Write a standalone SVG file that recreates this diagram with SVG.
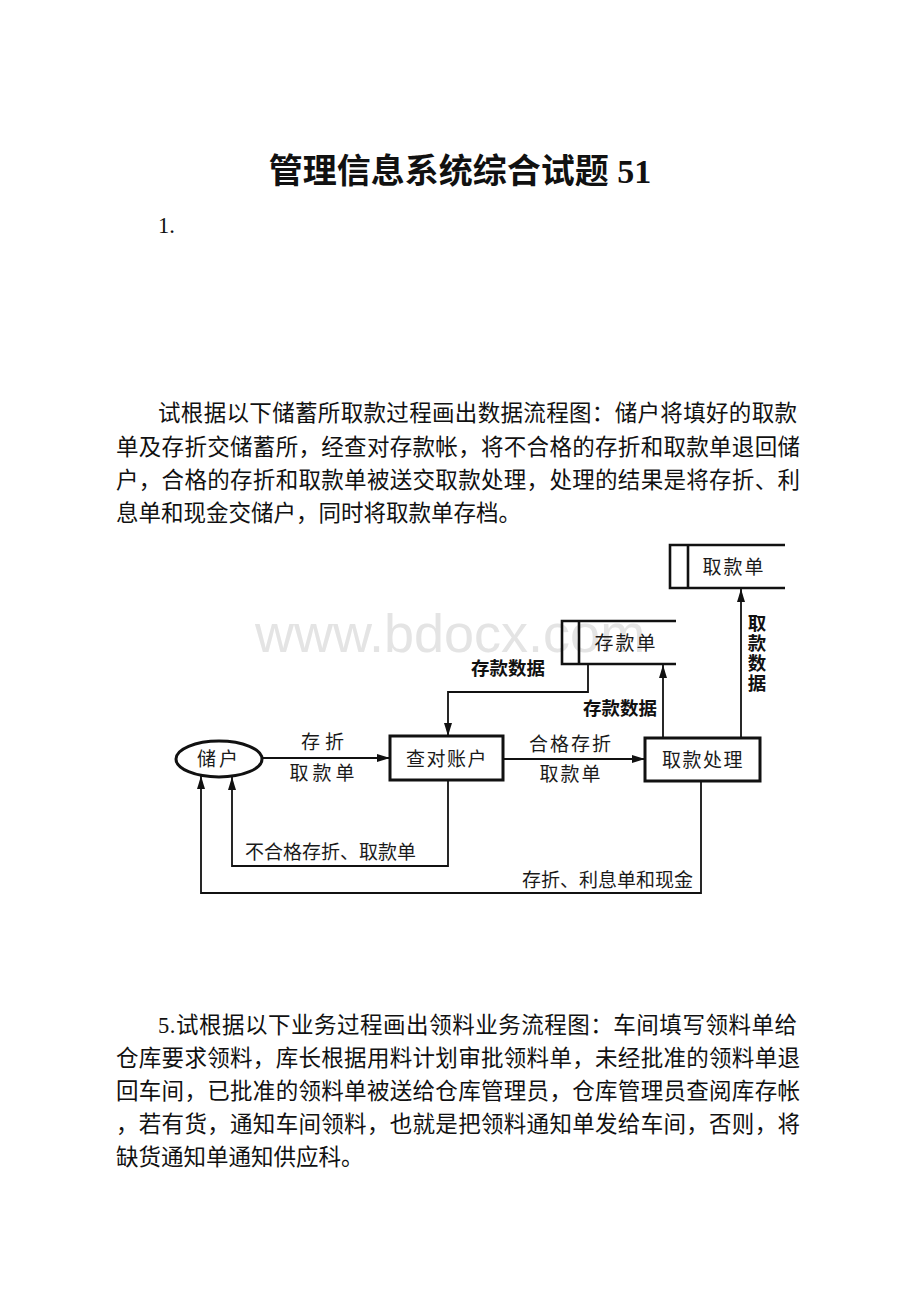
<svg xmlns="http://www.w3.org/2000/svg" width="920" height="1302" viewBox="0 0 920 1302">
<style>
.body{font-family:"Liberation Serif","Noto Sans CJK SC",serif;font-size:22.5px;fill:#111}
.title{font-family:"Liberation Serif","Noto Sans CJK SC",serif;font-size:34px;font-weight:bold;fill:#111}
.lbl{font-family:"Noto Sans CJK SC",sans-serif;font-size:19px;fill:#1a1a1a}
.bold{font-family:"Noto Sans CJK SC",sans-serif;font-size:18.5px;font-weight:bold;fill:#111}
.node{fill:#fff;stroke:#111;stroke-width:3}
.store{fill:none;stroke:#111;stroke-width:2.6}
.conn{fill:none;stroke:#111;stroke-width:1.8}
.wm{font-family:"Liberation Sans",Arial,sans-serif;font-size:54px;fill:#e4e4e4}
</style>
<defs>
<marker id="arr" markerUnits="userSpaceOnUse" markerWidth="14" markerHeight="10" refX="13" refY="4" orient="auto">
<path d="M0,0 L13,4 L0,8 z" fill="#111"/>
</marker>
</defs>
<rect width="920" height="1302" fill="#fff"/>

<text class="title" x="460" y="183" text-anchor="middle">管理信息系统综合试题 51</text>
<text class="body" x="158" y="233">1.</text>

<g id="para1">
<text class="body" x="158" y="421" textLength="639" lengthAdjust="spacing">试根据以下储蓄所取款过程画出数据流程图：储户将填好的取款</text>
<text class="body" x="116" y="455" textLength="684" lengthAdjust="spacing">单及存折交储蓄所，经查对存款帐，将不合格的存折和取款单退回储</text>
<text class="body" x="116" y="488" textLength="684" lengthAdjust="spacing">户，合格的存折和取款单被送交取款处理，处理的结果是将存折、利</text>
<text class="body" x="116" y="521">息单和现金交储户，同时将取款单存档。</text>
</g>

<text class="wm" x="255" y="652">www.bdocx.com</text>

<g id="connectors">
<line class="conn" x1="263" y1="758" x2="390" y2="758" marker-end="url(#arr)"/>
<line class="conn" x1="503" y1="759" x2="645" y2="759" marker-end="url(#arr)"/>
<polyline class="conn" points="588,664 588,692 448,692 448,736" marker-end="url(#arr)"/>
<line class="conn" x1="663" y1="738" x2="663" y2="665" marker-end="url(#arr)"/>
<line class="conn" x1="741" y1="738" x2="741" y2="589" marker-end="url(#arr)"/>
<polyline class="conn" points="448,781 448,866 232,866 232,777" marker-end="url(#arr)"/>
<polyline class="conn" points="701,781 701,893 201,893 201,776" marker-end="url(#arr)"/>
<text class="lbl" x="325" y="749" text-anchor="middle" letter-spacing="5">存折</text>
<text class="lbl" x="324" y="780" text-anchor="middle" letter-spacing="4">取款单</text>
<text class="lbl" x="571" y="751" text-anchor="middle" letter-spacing="2">合格存折</text>
<text class="lbl" x="571" y="781" text-anchor="middle" letter-spacing="2">取款单</text>
<text class="bold" x="508" y="675" text-anchor="middle">存款数据</text>
<text class="bold" x="620" y="715" text-anchor="middle">存款数据</text>
<text class="bold" x="757" y="614" writing-mode="tb" letter-spacing="1.5">取款数据</text>
<text class="lbl" x="245" y="859" font-size="20">不合格存折、取款单</text>
<text class="lbl" x="693" y="887" font-size="20" text-anchor="end">存折、利息单和现金</text>
</g>

<g id="node-chuhu">
<ellipse class="node" cx="219" cy="759" rx="43" ry="18"/>
<text class="lbl" x="219" y="766" text-anchor="middle" letter-spacing="3">储户</text>
</g>
<g id="node-chadui">
<rect class="node" x="390" y="736" width="113" height="44"/>
<text class="lbl" x="447" y="766" text-anchor="middle" letter-spacing="1.5" font-size="19.5">查对账户</text>
</g>
<g id="node-qukuanchuli">
<rect class="node" x="645" y="738" width="115" height="43"/>
<text class="lbl" x="703" y="767" text-anchor="middle" letter-spacing="1.5" font-size="19.5">取款处理</text>
</g>
<g id="store-cunkuandan">
<path class="store" d="M676,621 H562 V664 H676 M579,621 V664"/>
<text class="lbl" x="626" y="650" text-anchor="middle" letter-spacing="2">存款单</text>
</g>
<g id="store-qukuandan">
<path class="store" d="M785,545 H670 V588 H785 M688,545 V588"/>
<text class="lbl" x="734" y="574" text-anchor="middle" letter-spacing="2">取款单</text>
</g>

<g id="para2">
<text class="body" x="158" y="1033" textLength="639" lengthAdjust="spacing">5.试根据以下业务过程画出领料业务流程图：车间填写领料单给</text>
<text class="body" x="116" y="1066" textLength="684" lengthAdjust="spacing">仓库要求领料，库长根据用料计划审批领料单，未经批准的领料单退</text>
<text class="body" x="116" y="1099" textLength="684" lengthAdjust="spacing">回车间，已批准的领料单被送给仓库管理员，仓库管理员查阅库存帐</text>
<text class="body" x="116" y="1132" textLength="684" lengthAdjust="spacing">，若有货，通知车间领料，也就是把领料通知单发给车间，否则，将</text>
<text class="body" x="116" y="1165">缺货通知单通知供应科。</text>
</g>
</svg>
